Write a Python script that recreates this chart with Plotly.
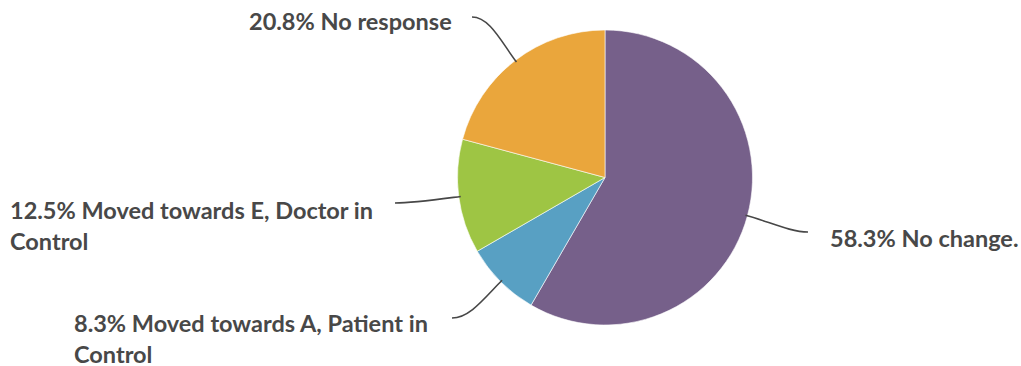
import math
import plotly.graph_objects as go

# Survey responses
categories = [
    "No change.",
    "Moved towards A, Patient in<br>Control",
    "Moved towards E, Doctor in<br>Control",
    "No response",
]
shares = [58.3, 8.3, 12.5, 20.8]
colors = ["#76608a", "#58a0c3", "#9ec544", "#eaa63c"]

W, H = 1021, 366
CX, CY, R = 605, 177.5, 147.5  # pie centre and radius in pixels

FONT = dict(family="Lato, 'Open Sans', sans-serif", size=23.5, color="#484848")
LINE_COLOR = "#474747"

# Per-slice label placement (pixels): text anchor and the point where the leader ends
label_layout = [
    dict(tx=828, ty=238, xanchor="left", end=(808, 232)),
    dict(tx=72, ty=338, xanchor="left", end=(452, 318)),
    dict(tx=8, ty=225, xanchor="left", end=(395, 203)),
    dict(tx=454, ty=21, xanchor="right", end=(472, 17)),
]


def px(x):
    return x / W


def py(y):
    return 1 - y / H


fig = go.Figure(
    go.Pie(
        labels=categories,
        values=shares,
        sort=False,
        direction="clockwise",
        rotation=0,
        marker=dict(colors=colors, line=dict(color="white", width=0.6)),
        textinfo="none",
        hoverinfo="label+percent",
        domain=dict(x=[px(CX - R), px(CX + R)], y=[py(CY + R), py(CY - R)]),
        showlegend=False,
    )
)

total = sum(shares)
cum = 0.0
shapes, annotations = [], []
for cat, val, lay in zip(categories, shares, label_layout):
    mid = (cum + val / 2) / total * 2 * math.pi
    cum += val
    dx, dy = math.sin(mid), -math.cos(mid)
    x0, y0 = CX + dx * (R - 2), CY + dy * (R - 2)
    x1, y1 = CX + dx * (R + 22), CY + dy * (R + 22)
    ex, ey = lay["end"]
    hx = ex + (18 if ex < CX else -18)
    path = (
        f"M {px(x0)},{py(y0)} C {px(x1)},{py(y1)} {px(hx)},{py(ey)} {px(ex)},{py(ey)}"
    )
    shapes.append(
        dict(type="path", xref="paper", yref="paper", path=path,
             line=dict(color=LINE_COLOR, width=1.6))
    )
    annotations.append(
        dict(
            text=f"<b>{val}% {cat}</b>",
            x=px(lay["tx"]), y=py(lay["ty"]),
            xref="paper", yref="paper",
            xanchor=lay["xanchor"], yanchor="middle",
            align="left", showarrow=False, font=FONT,
        )
    )

fig.update_layout(
    width=W, height=H,
    margin=dict(l=0, r=0, t=0, b=0),
    paper_bgcolor="white", plot_bgcolor="white",
    shapes=shapes, annotations=annotations,
)

fig.write_html("out.html")
